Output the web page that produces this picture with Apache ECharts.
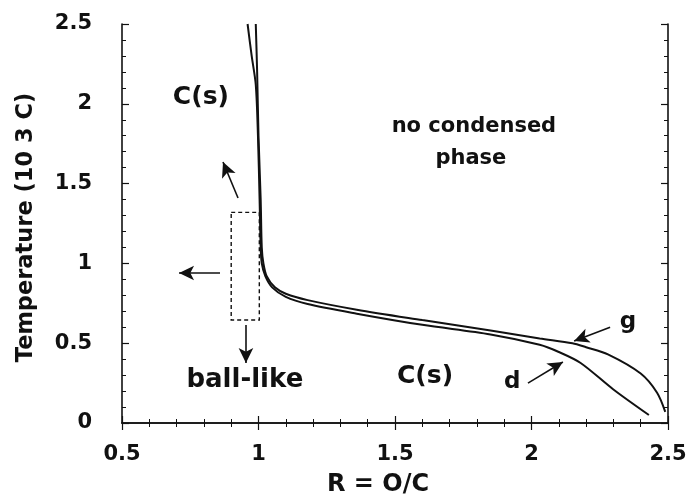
<!DOCTYPE html>
<html>
<head>
<meta charset="utf-8">
<script src="https://cdn.jsdelivr.net/npm/echarts@6/dist/echarts.min.js"></script>
<style>
  html, body { margin: 0; padding: 0; background: #fff; }
  #chart { width: 689px; height: 497px; }
</style>
</head>
<body>
<div id="chart"></div>
<script>
// Phase boundary curves: [R = O/C, temperature (10^3 C)]
const curveG = [
  [0.99, 2.5], [0.995, 2.2], [1.0, 1.8], [1.008, 1.4], [1.012, 1.1], [1.018, 1.0],
  [1.03, 0.92], [1.06, 0.85], [1.1, 0.81], [1.18, 0.77], [1.36, 0.71], [1.6, 0.645],
  [1.85, 0.58], [2.03, 0.53], [2.15, 0.50], [2.2, 0.475], [2.28, 0.43], [2.4, 0.31],
  [2.46, 0.19], [2.49, 0.07]
];
const curveD = [
  [0.96, 2.5], [0.975, 2.3], [0.99, 2.12], [0.998, 1.8], [1.004, 1.4], [1.008, 1.1],
  [1.012, 1.0], [1.025, 0.92], [1.05, 0.85], [1.1, 0.79], [1.18, 0.745], [1.36, 0.685],
  [1.6, 0.615], [1.85, 0.555], [2.03, 0.49], [2.1, 0.445], [2.18, 0.376], [2.3, 0.21],
  [2.43, 0.05]
];

// Axis ranges and tick spacing
const xRange = [0.5, 2.5];
const yRange = [0, 2.5];
const tickStep = 0.5;

// Region labels: [text, R, T, fontSize]
const regionLabels = [
  ['C(s)', 0.789, 2.04, 25],
  ['no condensed', 1.789, 1.86, 21],
  ['phase', 1.778, 1.66, 21],
  ['ball-like', 0.95, 0.265, 26],
  ['C(s)', 1.61, 0.294, 25],
  ['g', 2.353, 0.63, 23],
  ['d', 1.929, 0.257, 23]
];

// Arrows: [from R, from T, to R, to T]
const arrows = [
  [0.925, 1.41, 0.870, 1.635],
  [0.859, 0.94, 0.709, 0.94],
  [0.954, 0.614, 0.954, 0.376],
  [2.288, 0.60, 2.156, 0.514],
  [1.987, 0.25, 2.115, 0.382]
];

// Dashed box around the ball-like region: [R0, T0, R1, T1]
const ballBox = [0.9, 1.32, 1.003, 0.645];

const FONT = 'DejaVu Sans';
const black = '#111';

function axisBase(show) {
  return {
    type: 'value',
    axisLine: { show: true, lineStyle: { color: black, width: 1.6 } },
    axisTick: { show: true, inside: true, length: 7, lineStyle: { color: black, width: 1.2 } },
    minorTick: { show: true, splitNumber: 5, length: 4, lineStyle: { color: black, width: 1 } },
    splitLine: { show: false },
    minorSplitLine: { show: false },
    axisLabel: { show: show, color: black, fontSize: 21, fontWeight: 'bold', fontFamily: FONT }
  };
}

const xBottom = Object.assign(axisBase(true), {
  min: xRange[0], max: xRange[1], interval: tickStep, position: 'bottom',
  name: 'R = O/C', nameLocation: 'middle', nameGap: 50,
  nameTextStyle: { color: black, fontSize: 24, fontWeight: 'bold', fontFamily: FONT, padding: [0, 34, 0, 0] }
});
xBottom.axisLabel.margin = 21;
const xTop = Object.assign(axisBase(false), {
  min: xRange[0], max: xRange[1], interval: tickStep, position: 'top'
});
const yLeft = Object.assign(axisBase(true), {
  min: yRange[0], max: yRange[1], interval: tickStep, position: 'left',
  name: 'Temperature (10 3 C)', nameLocation: 'middle', nameGap: 84,
  nameTextStyle: { color: black, fontSize: 22.5, fontWeight: 'bold', fontFamily: FONT, padding: [0, 8, 0, 0] }
});
yLeft.axisLabel.margin = 30;
yLeft.axisLabel.padding = [5, 0, 0, 0];
const yRight = Object.assign(axisBase(false), {
  min: yRange[0], max: yRange[1], interval: tickStep, position: 'right'
});

const curveStyle = { color: black, width: 2 };

const option = {
  backgroundColor: '#fff',
  animation: false,
  grid: { left: 122, right: 21, top: 24, bottom: 74, containLabel: false, outerBoundsMode: 'none' },
  xAxis: [xBottom, xTop],
  yAxis: [yLeft, yRight],
  series: [
    {
      name: 'g', type: 'line', data: curveG, showSymbol: false, smooth: 0.3,
      lineStyle: curveStyle, xAxisIndex: 0, yAxisIndex: 0, z: 3
    },
    {
      name: 'd', type: 'line', data: curveD, showSymbol: false, smooth: 0.3,
      lineStyle: curveStyle, xAxisIndex: 0, yAxisIndex: 0, z: 3
    },
    {
      name: 'annotations', type: 'line', data: [], xAxisIndex: 0, yAxisIndex: 0,
      markArea: {
        silent: true,
        itemStyle: { color: 'rgba(0,0,0,0)', borderColor: black, borderWidth: 1.4, borderType: [4, 3] },
        data: [[{ coord: [ballBox[0], ballBox[1]] }, { coord: [ballBox[2], ballBox[3]] }]]
      },
      markLine: {
        silent: true,
        symbol: ['none', 'arrow'],
        symbolSize: [11, 15],
        lineStyle: { color: black, width: 1.6, type: 'solid' },
        itemStyle: { color: black },
        label: { show: false },
        data: arrows.map(a => [{ coord: [a[0], a[1]] }, { coord: [a[2], a[3]] }])
      },
      markPoint: {
        silent: true,
        symbol: 'circle',
        symbolSize: 0,
        data: regionLabels.map(l => ({
          coord: [l[1], l[2]],
          label: {
            show: true, position: 'inside', formatter: l[0], color: black,
            fontSize: l[3], fontWeight: 'bold', fontFamily: FONT
          }
        }))
      }
    }
  ]
};

const chart = echarts.init(document.getElementById('chart'), null, { renderer: 'canvas' });
chart.setOption(option);
</script>
</body>
</html>
